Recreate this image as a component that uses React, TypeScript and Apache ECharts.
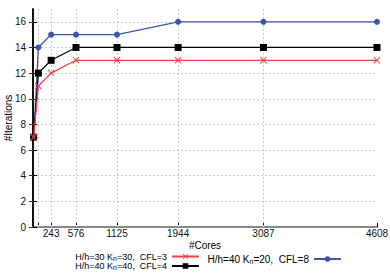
import React, { useEffect, useRef } from "react";
import * as echarts from "echarts";

const cores = [9, 72, 243, 576, 1125, 1944, 3087, 4608];
const labeledCores = [243, 576, 1125, 1944, 3087, 4608];
const gridCores = [72, 243, 576, 1125, 1944, 3087];
const iterRed = [7, 11, 12, 13, 13, 13, 13, 13];
const iterBlack = [7, 12, 13, 14, 14, 14, 14, 14];
const iterBlue = [7, 14, 15, 15, 15, 16, 16, 16];
const yTicks = [0, 2, 4, 6, 8, 10, 12, 14, 16];

const nameRed = "H/h=30 K{s|n}=30,  CFL=3";
const nameBlack = "H/h=40 K{s|n}=40,  CFL=4";
const nameBlue = "H/h=40 K{s|n}=20,  CFL=8";

const RED = "#f0404a";
const BLACK = "#000000";
const BLUE = "#3a55b0";
const FONT = "'Liberation Sans Narrow', 'Liberation Sans', sans-serif";

const xPath = "path://M0,1 L1,0 L5,4 L9,0 L10,1 L6,5 L10,9 L9,10 L5,6 L1,10 L0,9 L4,5 Z";

export default function App() {
  const ref = useRef<HTMLDivElement>(null);
  useEffect(() => {
    const chart = echarts.init(ref.current!, null, { renderer: "svg" });
    const pts = (vals: number[]) => cores.map((c, i) => [c, vals[i]]);
    const rich1 = { s: { fontSize: 7, fontFamily: FONT, color: "#000", padding: [3, 0, 0, 0] } };
    const rich2 = { s: { fontSize: 7, fontFamily: FONT, color: "#000", padding: [4, 0, 0, 0] } };
    chart.setOption({
      animation: false,
      textStyle: { fontFamily: FONT },
      grid: { left: 33, right: 13, top: 9, bottom: 46, containLabel: false, outerBoundsMode: "none" },
      legend: [
        {
          data: [nameRed, nameBlack],
          orient: "vertical",
          right: 190,
          top: 252,
          align: "right",
          itemGap: 0,
          itemWidth: 27,
          itemHeight: 7,
          padding: 0,
          textStyle: { fontFamily: FONT, fontSize: 9, color: "#000", lineHeight: 7, rich: rich1 },
        },
        {
          data: [nameBlue],
          orient: "vertical",
          right: 48,
          top: 254,
          align: "right",
          itemWidth: 27,
          itemHeight: 7,
          padding: 0,
          textStyle: { fontFamily: FONT, fontSize: 10, color: "#000", lineHeight: 8, rich: rich2 },
        },
      ],
      xAxis: [
        {
          type: "value",
          min: 0,
          max: 4608,
          name: "#Cores",
          nameLocation: "middle",
          nameGap: 13,
          nameMoveOverlap: false,
          nameTextStyle: { fontSize: 10, color: "#000", fontFamily: FONT },
          axisLine: { show: true, onZero: false, lineStyle: { color: "#000", width: 1.5 } },
          axisTick: { show: true, inside: true, length: 4, customValues: cores, lineStyle: { color: "#000" } },
          axisLabel: {
            customValues: labeledCores,
            fontSize: 10,
            color: "#111",
            margin: 1,
            fontFamily: FONT,
            formatter: (v: number) => String(v),
          },
          splitLine: { show: false },
        },
        {
          type: "value",
          position: "top",
          min: 0,
          max: 4608,
          axisLine: { show: true, lineStyle: { color: "#888", width: 2 } },
          axisTick: { show: false },
          axisLabel: { show: false },
          splitLine: { show: false },
        },
      ],
      yAxis: [
        {
          type: "value",
          min: 0,
          max: 17,
          interval: 2,
          name: "#Iterations",
          nameLocation: "middle",
          nameGap: 20,
          nameMoveOverlap: false,
          nameTextStyle: { fontSize: 10, color: "#000", fontFamily: FONT },
          axisLine: { show: true, lineStyle: { color: "#000", width: 1.5 } },
          axisTick: { show: true, inside: true, length: 4, customValues: yTicks, lineStyle: { color: "#000" } },
          axisLabel: { customValues: yTicks, fontSize: 10, color: "#111", margin: 7, fontFamily: FONT },
          splitLine: { show: true, lineStyle: { color: "#ccc", type: [2, 2], width: 1 } },
        },
        {
          type: "value",
          position: "right",
          min: 0,
          max: 17,
          interval: 2,
          axisLine: { show: true, lineStyle: { color: "#000", width: 1.5 } },
          axisTick: { show: true, inside: true, length: 4, customValues: yTicks, lineStyle: { color: "#333" } },
          axisLabel: { show: false },
          splitLine: { show: false },
        },
      ],
      series: [
        {
          name: nameBlue,
          type: "line",
          data: pts(iterBlue),
          symbol: "circle",
          symbolSize: 6,
          color: BLUE,
          lineStyle: { color: BLUE, width: 1.3 },
          itemStyle: { color: BLUE },
          z: 3,
          markLine: {
            silent: true,
            symbol: "none",
            label: { show: false },
            lineStyle: { color: "#ccc", type: [2, 2], width: 1 },
            data: gridCores.map((c) => ({ xAxis: c })),
            z: 1,
          },
        },
        {
          name: nameBlack,
          type: "line",
          data: pts(iterBlack),
          symbol: "rect",
          symbolSize: 7,
          color: BLACK,
          lineStyle: { color: BLACK, width: 1.3 },
          itemStyle: { color: BLACK },
          z: 4,
        },
        {
          name: nameRed,
          type: "line",
          data: pts(iterRed),
          symbol: xPath,
          symbolSize: 7,
          color: RED,
          lineStyle: { color: RED, width: 1.3 },
          itemStyle: { color: RED },
          z: 5,
        },
      ],
    });
    return () => chart.dispose();
  }, []);
  return <div ref={ref} style={{ width: 390, height: 273, position: "absolute", left: 0, top: 0 }} />;
}
